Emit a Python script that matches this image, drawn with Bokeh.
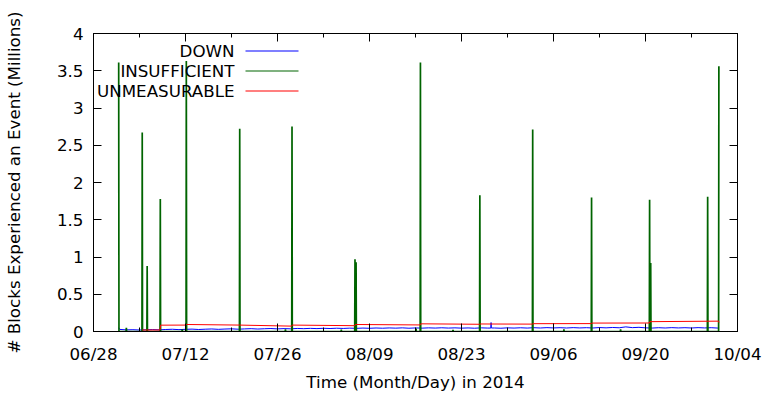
import pandas as pd
from bokeh.plotting import figure
from bokeh.models import (FixedTicker, DatetimeAxis, LinearAxis, CustomJSTickFormatter,
                          Label, BoxAnnotation, Range1d)
from bokeh.embed import file_html
from bokeh.resources import INLINE

FONT = "DejaVu Sans"
FSIZE = "16.7px"

# ---------------- data ----------------
x_start = "2014-06-28"
x_end = "2014-10-04"
x_major_ticks = ["2014-06-28", "2014-07-12", "2014-07-26", "2014-08-09",
                 "2014-08-23", "2014-09-06", "2014-09-20", "2014-10-04"]
x_tick_labels = ["06/28", "07/12", "07/26", "08/09", "08/23", "09/06", "09/20", "10/04"]
x_minor_ticks = ["2014-07-05", "2014-07-19", "2014-08-02", "2014-08-16",
                 "2014-08-30", "2014-09-13", "2014-09-27"]
y_ticks = [0, 0.5, 1, 1.5, 2, 2.5, 3, 3.5, 4]
y_tick_labels = ["0", "0.5", "1", "1.5", "2", "2.5", "3", "3.5", "4"]

series_names = ["DOWN", "INSUFFICIENT", "UNMEASURABLE"]
series_colors = ["#0000ff", "#006400", "#ff0000"]

# INSUFFICIENT (millions of blocks)
insufficient_times = [
    "2014-07-01 20:00", "2014-07-01 21:00",
    "2014-07-02 23:00", "2014-07-03 00:00", "2014-07-03 01:00",
    "2014-07-05 09:00", "2014-07-05 10:00", "2014-07-05 11:00",
    "2014-07-06 03:00", "2014-07-06 04:00", "2014-07-06 05:00",
    "2014-07-08 03:00", "2014-07-08 04:00", "2014-07-08 05:00",
    "2014-07-11 11:00", "2014-07-11 12:00", "2014-07-11 13:00",
    "2014-07-12 02:00", "2014-07-12 03:00", "2014-07-12 04:00",
    "2014-07-20 05:00", "2014-07-20 06:00", "2014-07-20 07:00",
    "2014-07-27 04:00", "2014-07-27 05:00", "2014-07-27 06:00",
    "2014-07-28 04:00", "2014-07-28 05:00", "2014-07-28 06:00",
    "2014-08-04 16:00", "2014-08-04 17:00", "2014-08-04 18:00",
    "2014-08-06 18:00", "2014-08-06 19:00", "2014-08-06 20:00",
    "2014-08-06 22:00", "2014-08-06 23:00", "2014-08-07 00:00",
    "2014-08-16 01:00", "2014-08-16 02:00", "2014-08-16 03:00",
    "2014-08-16 17:00", "2014-08-16 18:00", "2014-08-16 19:00",
    "2014-08-21 16:00", "2014-08-21 17:00", "2014-08-21 18:00",
    "2014-08-25 18:00", "2014-08-25 19:00", "2014-08-25 20:00",
    "2014-09-02 19:00", "2014-09-02 20:00", "2014-09-02 21:00",
    "2014-09-07 13:00", "2014-09-07 14:00", "2014-09-07 15:00",
    "2014-09-11 18:00", "2014-09-11 19:00", "2014-09-11 20:00",
    "2014-09-16 04:00", "2014-09-16 05:00", "2014-09-16 06:00",
    "2014-09-20 14:00", "2014-09-20 15:00", "2014-09-20 16:00",
    "2014-09-20 18:00", "2014-09-20 19:00", "2014-09-20 20:00",
    "2014-09-29 10:00", "2014-09-29 11:00", "2014-09-29 12:00",
    "2014-10-01 03:00", "2014-10-01 04:00",
]
insufficient_values = [
    3.61, 0.0,
    0.0, 0.05, 0.0,
    0.0, 2.67, 0.0,
    0.0, 0.88, 0.0,
    0.0, 1.78, 0.0,
    0.0, 0.03, 0.0,
    0.0, 3.63, 0.0,
    0.0, 2.72, 0.0,
    0.0, 0.03, 0.0,
    0.0, 2.75, 0.0,
    0.0, 0.025, 0.0,
    0.0, 0.97, 0.0,
    0.0, 0.93, 0.0,
    0.0, 0.04, 0.0,
    0.0, 3.61, 0.0,
    0.0, 0.02, 0.0,
    0.0, 1.83, 0.0,
    0.0, 2.71, 0.0,
    0.0, 0.03, 0.0,
    0.0, 1.80, 0.0,
    0.0, 0.03, 0.0,
    0.0, 1.77, 0.0,
    0.0, 0.92, 0.0,
    0.0, 1.81, 0.0,
    0.0, 3.56,
]

# DOWN: one value per day, 07/02 .. 10/01, plus a few extra readings
down_first_day = "2014-07-02"
down_daily_values = [
    # July 2-31
    0.028, 0.022, 0.024, 0.020, 0.023, 0.026, 0.022, 0.027, 0.030, 0.025,
    0.029, 0.032, 0.027, 0.031, 0.034, 0.029, 0.033, 0.036, 0.031, 0.035,
    0.038, 0.033, 0.037, 0.040, 0.035, 0.039, 0.036, 0.041, 0.038, 0.042,
    # August 1-31
    0.039, 0.043, 0.040, 0.044, 0.041, 0.045, 0.042, 0.046, 0.043, 0.047,
    0.044, 0.048, 0.045, 0.049, 0.044, 0.048, 0.045, 0.049, 0.046, 0.050,
    0.046, 0.049, 0.045, 0.048, 0.044, 0.049, 0.046, 0.047, 0.044, 0.049,
    0.046,
    # September 1-30
    0.050, 0.046, 0.051, 0.047, 0.052, 0.048, 0.051, 0.047, 0.052, 0.048,
    0.051, 0.047, 0.053, 0.049, 0.054, 0.050, 0.062, 0.052, 0.056, 0.049,
    0.046, 0.051, 0.047, 0.052, 0.048, 0.051, 0.047, 0.052, 0.048, 0.051,
    # October 1
    0.046,
]
down_extra_times = ["2014-07-01 20:00", "2014-07-01 23:00",
                    "2014-08-27 11:00", "2014-08-27 12:00", "2014-08-27 13:00",
                    "2014-10-01 04:00"]
down_extra_values = [0.052, 0.030, 0.046, 0.120, 0.047, 0.045]

# UNMEASURABLE
unmeasurable_times = [
    "2014-07-05 10:00", "2014-07-08 03:00", "2014-07-08 05:00",
    "2014-07-12 02:00", "2014-07-12 04:00", "2014-07-20 06:00",
    "2014-07-28 04:00", "2014-07-28 06:00", "2014-08-06 18:00",
    "2014-08-06 20:00", "2014-08-16 17:00", "2014-08-16 19:00",
    "2014-08-25 18:00", "2014-08-25 20:00", "2014-09-02 19:00",
    "2014-09-02 21:00", "2014-09-11 18:00", "2014-09-11 20:00",
    "2014-09-20 14:00", "2014-09-20 16:00", "2014-10-01 03:00",
    "2014-10-01 04:00",
]
unmeasurable_values = [
    0.020, 0.020, 0.085,
    0.086, 0.094, 0.086,
    0.072, 0.086, 0.078,
    0.094, 0.088, 0.103,
    0.097, 0.101, 0.099,
    0.105, 0.106, 0.113,
    0.114, 0.132, 0.139,
    0.120,
]

# ---------------- build frames ----------------
def ms(s):
    return pd.Timestamp(s).value // 10**6

down_df = pd.DataFrame({
    "t": list(pd.date_range(down_first_day, periods=len(down_daily_values), freq="D"))
         + list(pd.to_datetime(down_extra_times)),
    "v": down_daily_values + down_extra_values,
}).sort_values("t")
ins_df = pd.DataFrame({"t": pd.to_datetime(insufficient_times), "v": insufficient_values})
unm_df = pd.DataFrame({"t": pd.to_datetime(unmeasurable_times), "v": unmeasurable_values})

# ---------------- figure ----------------
p = figure(width=762, height=395, x_axis_type="datetime",
           x_range=Range1d(ms(x_start), ms(x_end)), y_range=Range1d(0, 4),
           output_backend="svg", toolbar_location=None,
           min_border_left=92, min_border_right=25, min_border_top=33, min_border_bottom=64)
p.xgrid.grid_line_color = None
p.ygrid.grid_line_color = None
p.outline_line_color = "black"
p.background_fill_color = "white"
p.border_fill_color = "white"

p.line(down_df["t"], down_df["v"], line_color=series_colors[0], line_width=1)
p.line(ins_df["t"], ins_df["v"], line_color=series_colors[1], line_width=1.7)
p.line(unm_df["t"], unm_df["v"], line_color=series_colors[2], line_width=1)

xticker = FixedTicker(ticks=[ms(t) for t in x_major_ticks],
                      minor_ticks=[ms(t) for t in x_minor_ticks])
yticker = FixedTicker(ticks=y_ticks, minor_ticks=[])


def style(ax):
    ax.axis_line_color = "black"
    ax.major_tick_line_color = "black"
    ax.minor_tick_line_color = "black"
    ax.major_tick_in = 8
    ax.major_tick_out = 0
    ax.minor_tick_in = 4
    ax.minor_tick_out = 0
    ax.major_label_text_font = FONT
    ax.major_label_text_font_size = FSIZE
    ax.major_label_text_color = "black"
    ax.axis_label_text_font = FONT
    ax.axis_label_text_font_size = FSIZE
    ax.axis_label_text_font_style = "normal"
    ax.axis_label_text_color = "black"


xa = p.xaxis[0]
xa.ticker = xticker
xa.major_label_overrides = {ms(t): lab for t, lab in zip(x_major_ticks, x_tick_labels)}
xa.axis_label = "Time (Month/Day) in 2014"
style(xa)
xa.major_label_standoff = 12
xa.axis_label_standoff = 5

ya = p.yaxis[0]
ya.ticker = yticker
ya.major_label_overrides = {t: lab for t, lab in zip(y_ticks, y_tick_labels)}
ya.axis_label = "# Blocks Experienced an Event (Millions)"
style(ya)
ya.major_label_standoff = 10
ya.axis_label_standoff = 30

blank = CustomJSTickFormatter(code="return ''")
top = DatetimeAxis(ticker=xticker, formatter=blank)
style(top)
top.major_label_standoff = 0
top.major_label_text_font_size = "1px"
p.add_layout(top, "above")
right = LinearAxis(ticker=yticker, formatter=blank)
style(right)
right.major_label_standoff = 0
right.major_label_text_font_size = "1px"
p.add_layout(right, "right")

# legend: right-aligned text followed by a line sample (frame-relative screen units)
leg_text_x = 141
leg_line_left, leg_line_right = 152, 205
leg_baselines = [281, 261, 241]
leg_line_y = [280, 260, 240]
for name, col, yb, yl in zip(series_names, series_colors, leg_baselines, leg_line_y):
    p.add_layout(Label(x=leg_text_x, y=yb, x_units="screen", y_units="screen", text=name,
                       text_align="right", text_baseline="alphabetic",
                       text_font=FONT, text_font_size=FSIZE, text_color="black"))
    p.add_layout(BoxAnnotation(left=leg_line_left, right=leg_line_right, bottom=yl, top=yl + 1,
                               left_units="screen", right_units="screen",
                               bottom_units="screen", top_units="screen",
                               fill_color=col, fill_alpha=1.0, line_color=None))

open("out.html", "w").write(file_html(p, INLINE))
